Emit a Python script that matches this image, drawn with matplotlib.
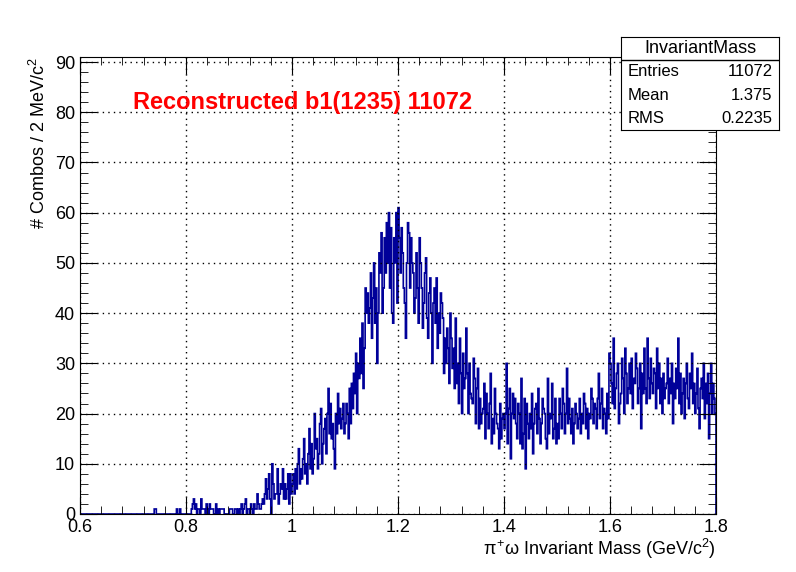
import numpy as np
import matplotlib
matplotlib.use("Agg")
import matplotlib.pyplot as plt
from matplotlib.ticker import MultipleLocator, FuncFormatter

plt.rcParams["font.family"] = "Liberation Sans"
plt.rcParams["mathtext.fontset"] = "custom"
plt.rcParams["mathtext.rm"] = "Liberation Sans"
plt.rcParams["mathtext.it"] = "Liberation Sans"

x_min, x_max, bin_width = 0.6, 1.8, 0.002
seg_060 = [0]*50
seg_070 = [0]*20 + [1,1] + [0]*19 + [1,0,0,1] + [0]*5
seg_080 = [0,0,0,0,0,1,2,3,1,2,0,1,1,0,3,1,1,1,0,2,1,0,2,1,1,1,0,0,2,0,1,0,1,1,1,1,0,0,0,0,0,1,1,1,0,0,1,1,0,1]
seg_090 = [0,1,2,0,1,2,3,0,1,1,0,2,1,0,2,1,1,4,2,1,1,2,3,2,4,7,3,5,8,3,0,10,6,3,4,4,9,2,4,6,5,9,3,6,3,5,8,2,8,4]
seg_100 = [6,8,4,9,5,10,13,6,9,7,11,15,8,10,6,12,17,9,14,8,11,20,13,15,9,12,18,21,10,14,17,19,12,20,25,16,22,15,18,13,9,20,16,24,18,21,17,19,22,16]
seg_110 = [18,22,20,15,25,18,26,21,28,24,32,20,30,27,35,28,38,25,33,45,40,44,38,41,48,35,43,50,38,45,30,40,52,48,56,40,45,55,48,58,50,60,45,57,40,38,55,50,60,42]
seg_120 = [61,55,48,57,52,45,42,35,50,58,56,45,55,50,48,40,43,52,45,38,55,50,45,37,42,48,51,39,35,44,47,40,30,42,45,38,47,33,40,36,44,42,39,28,35,30,37,33,26,40]
seg_130 = [35,29,33,25,39,26,30,22,35,28,20,32,25,27,37,28,20,30,24,23,22,31,27,18,25,29,17,23,18,20,21,26,15,24,20,17,22,28,14,19,16,25,20,18,17,13,22,15,19,20]
seg_140 = [17,20,30,14,21,25,11,20,24,19,23,18,15,22,20,14,27,13,16,23,9,22,18,15,20,17,24,12,18,21,22,16,25,19,14,18,23,21,20,15,13,27,16,20,19,26,15,17,23,14]
seg_150 = [18,15,23,20,17,25,22,16,20,29,18,23,19,16,21,14,18,22,20,17,19,23,16,20,18,24,22,17,21,15,20,19,25,23,18,22,21,17,23,28,19,22,25,17,21,20,16,24,19,32]
seg_160 = [30,26,22,35,21,25,28,30,18,22,24,31,27,20,33,28,22,25,30,24,31,21,27,26,32,29,22,25,30,17,28,24,33,25,22,35,27,23,31,26,24,29,28,21,33,25,30,22,27,20]
seg_170 = [28,23,25,26,31,22,27,24,30,18,26,23,29,25,35,22,28,20,24,27,19,26,30,23,21,28,25,32,22,26,20,24,29,21,17,25,27,23,30,19,26,22,28,15,24,30,20,26,23,20]
counts = np.array(seg_060+seg_070+seg_080+seg_090+seg_100+seg_110+seg_120+seg_130+seg_140+seg_150+seg_160+seg_170)
edges = np.linspace(x_min, x_max, len(counts)+1)

stats_labels = ["Entries", "Mean", "RMS"]
stats_values = ["11072", "1.375", "0.2235"]

fig = plt.figure(figsize=(7.96, 5.72), dpi=100)
ax = fig.add_axes([80/796, 1-514/572, 636/796, 457/572])
ax.stairs(counts, edges, color="#000099", lw=1.2)
ax.set_xlim(x_min, x_max)
ax.set_ylim(0, 91)
ax.xaxis.set_major_locator(MultipleLocator(0.2))
ax.xaxis.set_minor_locator(MultipleLocator(0.04))
ax.xaxis.set_major_formatter(FuncFormatter(lambda v, p: "%g" % round(v, 3)))
ax.yaxis.set_major_locator(MultipleLocator(10))
ax.yaxis.set_minor_locator(MultipleLocator(2))
ax.tick_params(which="both", direction="in", top=True, right=True, labelsize=13)
ax.tick_params(which="major", length=12)
ax.tick_params(which="minor", length=6)
ax.grid(True, which="major", color="black", linestyle=(0, (1, 3)), lw=1)
ax.set_xlabel(r"$\pi^{+}\omega$ Invariant Mass (GeV/c$^{2}$)", fontsize=13, loc="right", labelpad=1)
ax.set_ylabel(r"# Combos / 2 MeV/c$^{2}$", fontsize=13, loc="top")
ax.text(133/796, 1-103/572, "Reconstructed b1(1235) 11072", transform=fig.transFigure,
        color="red", fontsize=17, fontweight="bold", va="center")

# stats box
bx0, bx1, by0, by1 = 621/796, 779/796, 1-130/572, 1-37/572
box = fig.add_axes([bx0, by0, bx1-bx0, by1-by0])
box.set_xticks([]); box.set_yticks([])
box.set_xlim(0, 1); box.set_ylim(0, 4)
box.axhline(3, color="black", lw=1)
box.text(0.5, 3.5, "InvariantMass", ha="center", va="center", fontsize=13)
for i, (l, v) in enumerate(zip(stats_labels, stats_values)):
    y = 2.5 - i
    box.text(0.04, y, l, ha="left", va="center", fontsize=12)
    box.text(0.96, y, v, ha="right", va="center", fontsize=12)
fig.savefig("out.png", dpi=100)
